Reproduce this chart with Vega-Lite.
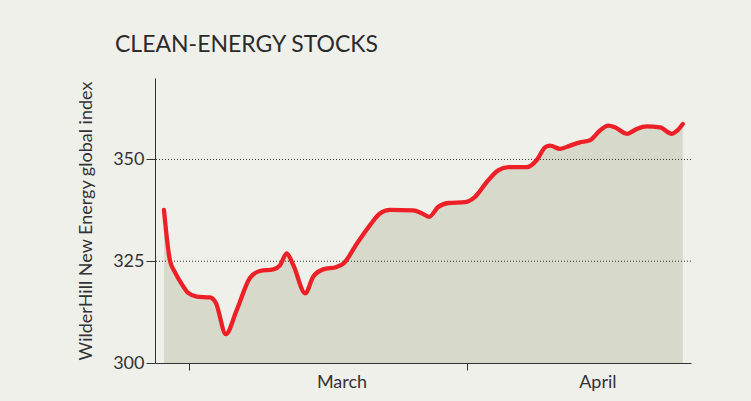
{
  "$schema": "https://vega.github.io/schema/vega-lite/v6.json",
  "width": 536,
  "height": 285,
  "autosize": "none",
  "padding": {"left": 155, "top": 78, "right": 60, "bottom": 38},
  "background": "#f0f0eb",
  "config": {"view": {"stroke": null}, "font": "Lato"},
  "title": {
    "text": "CLEAN-ENERGY STOCKS",
    "anchor": "start",
    "frame": "group",
    "dx": -40,
    "offset": 3,
    "baseline": "alphabetic",
    "fontSize": 23,
    "fontWeight": "normal",
    "color": "#2b2b2b"
  },
  "data": {
    "values": [
      {"date": "2009-02-26T04:00:00", "index": 337.6},
      {"date": "2009-02-26T20:00:00", "index": 325.2},
      {"date": "2009-02-27T09:00:00", "index": 322.4},
      {"date": "2009-02-28T03:00:00", "index": 319.5},
      {"date": "2009-02-28T21:00:00", "index": 317.2},
      {"date": "2009-03-01T20:00:00", "index": 316.3},
      {"date": "2009-03-03T07:00:00", "index": 316.1},
      {"date": "2009-03-03T23:00:00", "index": 314.8},
      {"date": "2009-03-05T02:00:00", "index": 307.1},
      {"date": "2009-03-06T07:00:00", "index": 313.0},
      {"date": "2009-03-07T18:00:00", "index": 320.8},
      {"date": "2009-03-08T21:00:00", "index": 322.6},
      {"date": "2009-03-10T09:00:00", "index": 323.0},
      {"date": "2009-03-11T03:00:00", "index": 324.0},
      {"date": "2009-03-11T21:00:00", "index": 326.9},
      {"date": "2009-03-12T15:00:00", "index": 324.0},
      {"date": "2009-03-13T23:00:00", "index": 317.1},
      {"date": "2009-03-14T20:00:00", "index": 321.2},
      {"date": "2009-03-15T23:00:00", "index": 323.0},
      {"date": "2009-03-17T11:00:00", "index": 323.6},
      {"date": "2009-03-18T05:00:00", "index": 324.4},
      {"date": "2009-03-19T17:00:00", "index": 329.3},
      {"date": "2009-03-21T04:00:00", "index": 333.8},
      {"date": "2009-03-22T07:00:00", "index": 336.7},
      {"date": "2009-03-23T10:00:00", "index": 337.6},
      {"date": "2009-03-26T00:00:00", "index": 337.5},
      {"date": "2009-03-26T23:00:00", "index": 336.8},
      {"date": "2009-03-27T19:00:00", "index": 335.9},
      {"date": "2009-03-28T19:00:00", "index": 338.3},
      {"date": "2009-03-29T22:00:00", "index": 339.3},
      {"date": "2009-03-31T19:00:00", "index": 339.5},
      {"date": "2009-04-01T22:00:00", "index": 340.8},
      {"date": "2009-04-03T05:00:00", "index": 344.4},
      {"date": "2009-04-04T12:00:00", "index": 347.3},
      {"date": "2009-04-05T15:00:00", "index": 348.1},
      {"date": "2009-04-07T17:00:00", "index": 348.1},
      {"date": "2009-04-08T19:00:00", "index": 349.8},
      {"date": "2009-04-09T18:00:00", "index": 353.0},
      {"date": "2009-04-10T07:00:00", "index": 353.4},
      {"date": "2009-04-11T10:00:00", "index": 352.6},
      {"date": "2009-04-12T13:00:00", "index": 353.4},
      {"date": "2009-04-13T15:00:00", "index": 354.2},
      {"date": "2009-04-14T18:00:00", "index": 354.7},
      {"date": "2009-04-15T21:00:00", "index": 357.1},
      {"date": "2009-04-16T19:00:00", "index": 358.3},
      {"date": "2009-04-17T13:00:00", "index": 357.9},
      {"date": "2009-04-18T21:00:00", "index": 356.3},
      {"date": "2009-04-20T00:00:00", "index": 357.5},
      {"date": "2009-04-21T02:00:00", "index": 358.1},
      {"date": "2009-04-22T14:00:00", "index": 357.9},
      {"date": "2009-04-23T21:00:00", "index": 356.3},
      {"date": "2009-04-24T11:00:00", "index": 357.0},
      {"date": "2009-04-25T03:00:00", "index": 358.7}
    ]
  },
  "encoding": {
    "x": {
      "field": "date",
      "type": "temporal",
      "scale": {
        "domain": [
          {"year": 2009, "month": 2, "date": 25, "hours": 4},
          {"year": 2009, "month": 4, "date": 26, "hours": 1}
        ]
      },
      "axis": {
        "values": [
          {"year": 2009, "month": 3, "date": 1},
          {"year": 2009, "month": 3, "date": 18},
          {"year": 2009, "month": 4, "date": 1},
          {"year": 2009, "month": 4, "date": 15, "hours": 14}
        ],
        "labelExpr": "date(datum.value) == 1 ? '' : timeFormat(datum.value, '%B')",
        "tickOpacity": {"condition": {"test": "date(datum.value) == 1", "value": 1}, "value": 0},
        "title": null,
        "grid": false,
        "domainColor": "#333333",
        "tickColor": "#333333",
        "tickSize": 7,
        "labelFontSize": 18,
        "labelColor": "#333333",
        "labelPadding": 3,
        "labelFont": "Lato"
      }
    }
  },
  "layer": [
    {
      "mark": {"type": "area", "interpolate": "monotone", "color": "#d7d9cb"},
      "encoding": {
        "y": {
          "field": "index",
          "type": "quantitative",
          "scale": {"domain": [300, 370], "zero": false, "nice": false},
          "axis": {
            "values": [300, 325, 350],
            "grid": false,
            "title": "WilderHill New Energy global index",
            "titleFontSize": 18,
            "titleFontWeight": "normal",
            "titleColor": "#333333",
            "titleFont": "Lato",
            "titlePadding": 17,
            "domainColor": "#333333",
            "tickColor": "#333333",
            "tickSize": 9,
            "labelFontSize": 18,
            "labelColor": "#333333",
            "labelPadding": 2,
            "labelFont": "Lato"
          }
        },
        "y2": {"datum": 300}
      }
    },
    {
      "data": {"values": [{"level": 325}, {"level": 350}]},
      "mark": {"type": "rule", "strokeDash": [1, 2], "color": "#333333", "strokeWidth": 1},
      "encoding": {"y": {"field": "level", "type": "quantitative"}, "x": null}
    },
    {
      "mark": {"type": "line", "interpolate": "monotone", "color": "#ee2027", "strokeWidth": 4.3, "strokeCap": "round", "strokeJoin": "round"},
      "encoding": {"y": {"field": "index", "type": "quantitative"}}
    }
  ]
}
